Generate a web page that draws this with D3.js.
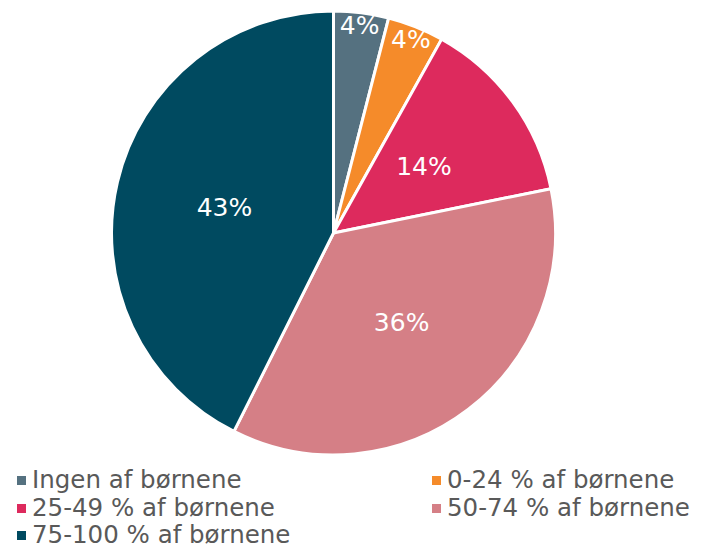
<!DOCTYPE html>
<html><head><meta charset="utf-8">
<script src="https://cdn.jsdelivr.net/npm/d3@7"></script>
<style>body{margin:0;background:#fff;} svg{display:block;}</style>
</head><body>
<svg id="c" width="709" height="550"></svg>
<script>
const categories = ["Ingen af børnene","0-24 % af børnene","25-49 % af børnene","50-74 % af børnene","75-100 % af børnene"];
const values = [4.0, 4.1, 13.7, 35.6, 42.6];
const labels = ["4%","4%","14%","36%","43%"];
const colors = ["#557180","#F58B2A","#DD2A5D","#D57F86","#004A60"];

const svg = d3.select("#c");
const cx = 333.5, cy = 233, R = 222;
const g = svg.append("g").attr("transform",`translate(${cx},${cy})`);
const pie = d3.pie().sort(null).value(d=>d)(values);
const arc = d3.arc().innerRadius(0).outerRadius(R);
g.selectAll("path").data(pie).join("path")
  .attr("d", arc).attr("fill",(d,i)=>colors[i])
  .attr("stroke","#fff").attr("stroke-width",3).attr("stroke-linejoin","round");

const lab = d => {
  const a = (d.startAngle+d.endAngle)/2;
  const r = (d.endAngle-d.startAngle) < 0.4 ? R*0.94 : R*0.505;
  return [Math.sin(a)*r, -Math.cos(a)*r];
};
g.selectAll("text.l").data(pie).join("text").attr("class","l")
  .attr("x",d=>lab(d)[0]).attr("y",d=>lab(d)[1])
  .attr("text-anchor","middle").attr("dominant-baseline","central")
  .attr("fill","#fff").style("font-family","DejaVu Sans, Verdana, sans-serif").style("font-size","25px")
  .text((d,i)=>labels[i]);

const legX = [17, 432], legY = [488, 516, 543];
const lg = svg.append("g");
categories.forEach((c,i)=>{
  const x = legX[i%2], y = legY[Math.floor(i/2)];
  lg.append("rect").attr("x",x).attr("y",y-12).attr("width",9).attr("height",9).attr("fill",colors[i]);
  lg.append("text").attr("x",x+15).attr("y",y)
    .attr("fill","#595959").style("font-family","DejaVu Sans, Verdana, sans-serif").style("font-size","24.5px")
    .text(c);
});
</script>
</body></html>
